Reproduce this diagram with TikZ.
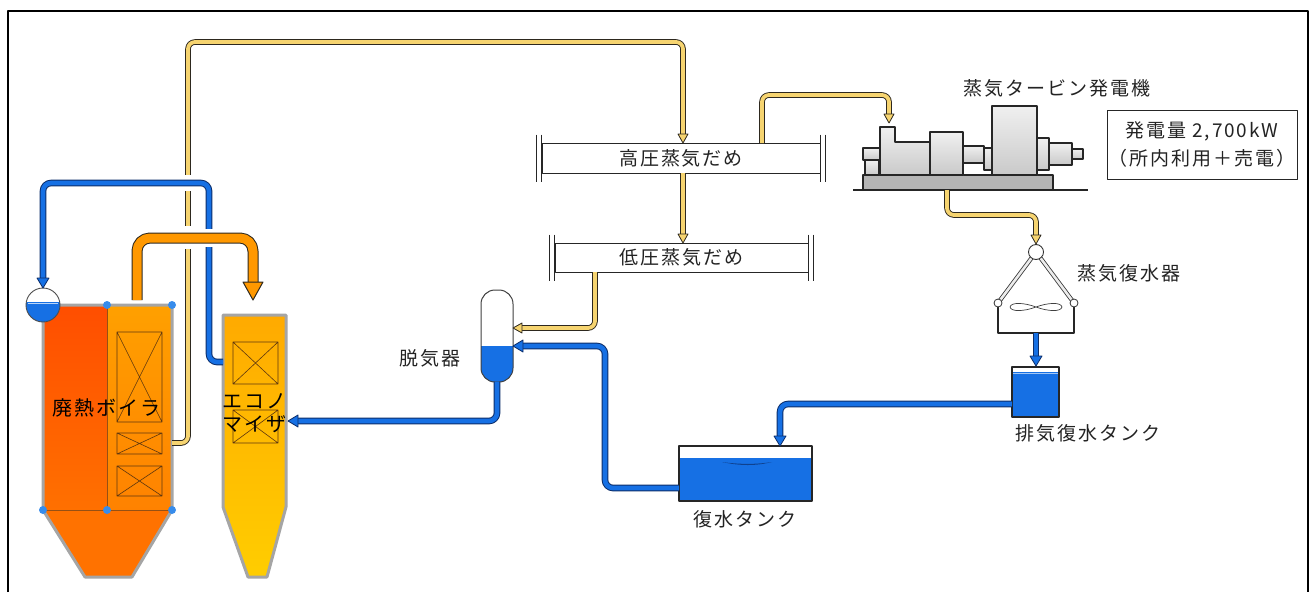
\documentclass[tikz,border=0pt]{standalone}
\usepackage{fontspec}
\newfontfamily\jp[LetterSpace=10]{Noto Sans CJK JP}
\usetikzlibrary{calc}

\definecolor{pipeedge}{RGB}{45,40,30}
\definecolor{steamfill}{RGB}{246,212,112}
\definecolor{waterfill}{RGB}{22,112,228}
\definecolor{wateredge}{RGB}{12,45,105}
\definecolor{fluefill}{RGB}{255,152,0}
\definecolor{hotA}{RGB}{255,78,0}
\definecolor{hotB}{RGB}{255,112,0}
\definecolor{convA}{RGB}{255,160,0}
\definecolor{convB}{RGB}{255,130,0}
\definecolor{hopper}{RGB}{255,114,0}
\definecolor{ecoA}{RGB}{255,170,0}
\definecolor{ecoB}{RGB}{255,205,0}
\definecolor{casing}{RGB}{165,165,165}
\definecolor{handle}{RGB}{55,140,235}
\definecolor{labeltext}{RGB}{35,35,35}
\definecolor{tubeline}{RGB}{95,55,15}
\definecolor{splitline}{RGB}{150,80,20}

\tikzset{
  steam/.style={draw=pipeedge, line width=0.9pt, double=steamfill, double distance=3.8pt, rounded corners=7pt},
  water/.style={draw=wateredge, line width=1pt, double=waterfill, double distance=4.6pt, rounded corners=8pt},
  flue/.style={draw=pipeedge, line width=1pt, double=fluefill, double distance=9pt, rounded corners=13pt},
  steamtip/.style={fill=steamfill, draw=pipeedge, line width=0.8pt},
  watertip/.style={fill=waterfill, draw=wateredge, line width=0.8pt},
  fluetip/.style={fill=fluefill, draw=pipeedge, line width=1pt},
  pics/hd/.style n args={2}{code={\path[pic actions] (0,0) -- (-#1,-#2) -- (#1,-#2) -- cycle;}},
  pics/hl/.style n args={2}{code={\path[pic actions] (0,0) -- (#2,-#1) -- (#2,#1) -- cycle;}},
  boxline/.style={draw=tubeline, line width=0.6pt},
  outline/.style={draw=black!85, line width=1.1pt},
  label/.style={font=\jp\fontsize{19}{22}\selectfont, text=labeltext, inner sep=0pt},
  header/.style={draw=black!85, line width=1pt, fill=white, inner sep=0pt,
                 font=\jp\fontsize{19}{22}\selectfont, text=labeltext},
  hbar/.style={draw=black!85, line width=1pt},
  machine/.style={top color=gray!12, bottom color=gray!42, draw=black!85, line width=1.1pt},
}

\newcommand\crossbox[4]{%
  \draw[boxline] (#1,#2) rectangle (#3,#4) (#1,#2) -- (#3,#4) (#3,#2) -- (#1,#4);}

\begin{document}
\begin{tikzpicture}[x=1pt,y=-1pt,line join=round]
\useasboundingbox (0,0) rectangle (1316,592);

% outer frame, open at the bottom
\draw[line width=2pt] (8,592) -- (8,11) -- (1308,11) -- (1308,592);

% ---------- waste heat boiler ----------
\fill[top color=hotA, bottom color=hotB] (43,305) rectangle (107,510);
\fill[top color=convA, bottom color=convB] (107,305) rectangle (172,510);
\fill[hopper] (43,510) -- (172,510) -- (132,577) -- (85,577) -- cycle;
\draw[draw=splitline, line width=0.5pt] (107,305) -- (107,510) (43,510) -- (172,510);
\crossbox{117}{332}{162}{422}
\crossbox{117}{433}{162}{454}
\crossbox{117}{466}{162}{496}
\draw[casing, line width=3pt] (43,305) -- (172,305) -- (172,510) -- (132,577) -- (85,577) -- (43,510) -- cycle;
\node[label, font=\jp\fontsize{20}{22}\selectfont, text=black] (boilerlabel) at (106,408) {廃熱ボイラ};

% steam drum
\coordinate (drum) at (43,305);
\fill[white] (drum) circle (17);
\begin{scope}
  \clip (20,302) rectangle (66,330);
  \fill[waterfill] (drum) circle (17);
\end{scope}
\draw[draw=white!70!waterfill, line width=0.6pt] (28,303) -- (58,303);
\draw[draw=black!70, line width=0.9pt] (drum) circle (17);

% handles on the boiler outline
\foreach \p in {(107,305),(172,305),(43,510),(107,510),(172,510)}
  \fill[handle] \p circle (4);

% ---------- economizer ----------
\fill[top color=ecoA, bottom color=ecoB] (223,315) -- (286,315) -- (286,507) -- (267,577) -- (248,577) -- (223,507) -- cycle;
\crossbox{233}{342}{278}{384}
\crossbox{233}{410}{278}{443}
\draw[casing, line width=3pt] (223,315) -- (286,315) -- (286,507) -- (267,577) -- (248,577) -- (223,507) -- cycle;
\node[label, text=black, align=center, font=\jp\fontsize{20}{23}\selectfont] (ecolabel) at (254,413) {エコノ\\マイザ};

% ---------- steam headers ----------
\node[header, minimum width=278, minimum height=30] (hp) at (681,158) {高圧蒸気だめ};
\node[header, minimum width=253, minimum height=29] (lp) at (681.5,257.5) {低圧蒸気だめ};
\foreach \h in {hp,lp}{
  \draw[hbar] ($(\h.north west)+(0,-8)$) -- ($(\h.south west)+(0,8)$)
              ($(\h.north west)+(-5,-8)$) -- ($(\h.south west)+(-5,8)$)
              ($(\h.north east)+(0,-8)$) -- ($(\h.south east)+(0,8)$)
              ($(\h.north east)+(5,-8)$) -- ($(\h.south east)+(5,8)$);
}

% ---------- deaerator ----------
\coordinate (deaSteamIn) at (513,328);
\coordinate (deaWaterIn) at (513,346);
\coordinate (deaOut) at (497,382);
\fill[white, rounded corners=14] (481,290) rectangle (513,382);
\begin{scope}
  \clip[rounded corners=14] (481,290) rectangle (513,382);
  \fill[waterfill] (478,346) rectangle (516,385);
\end{scope}
\draw[draw=black!75, line width=1pt, rounded corners=14] (481,290) rectangle (513,382);
\node[label] (dealabel) at (430,358) {脱気器};

% ---------- condensate tank ----------
\fill[white] (679,446) rectangle (812,501);
\fill[waterfill] (679,458) rectangle (812,501);
\fill[draw=none, fill=wateredge!70!waterfill] (722,462) .. controls (740,466) and (756,466) .. (772,462) .. controls (756,464.5) and (740,464.5) .. (722,462);
\draw[outline] (679,446) rectangle (812,501);
\node[label] (tanklabel) at (745,519) {復水タンク};
\coordinate (tankIn) at (780,446);
\coordinate (tankOut) at (679,488);

% ---------- exhaust condensate tank ----------
\fill[white] (1012,367) rectangle (1059,417);
\fill[waterfill] (1012,372) rectangle (1059,417);
\draw[draw=white!60!waterfill, line width=0.6pt] (1013,373) -- (1058,373);
\draw[outline] (1012,367) rectangle (1059,417);
\node[label] (extanklabel) at (1088,433) {排気復水タンク};
\coordinate (exIn) at (1036,367);
\coordinate (exOut) at (1012,404);

% ---------- steam condenser ----------
\coordinate (condBall) at (1036,252);
\coordinate (condL) at (998,303);
\coordinate (condR) at (1074,303);
\coordinate (condOut) at (1036,333);
\draw[outline] (condL) -- (998,333) -- (1074,333) -- (condR);
\draw[draw=black!80, line width=0.8pt, double=gray!15, double distance=2.6pt] (condBall) -- (condL);
\draw[draw=black!80, line width=0.8pt, double=gray!15, double distance=2.6pt] (condBall) -- (condR);
\filldraw[fill=white, draw=black!80, line width=0.9pt] (condBall) circle (7.5);
\filldraw[fill=white, draw=black!80, line width=0.8pt] (condL) circle (4);
\filldraw[fill=white, draw=black!80, line width=0.8pt] (condR) circle (4);
\coordinate (fan) at (1036,307);
\filldraw[fill=white, draw=black!75, line width=0.7pt]
  (fan) .. controls (1024,302.5) and (1011,302) .. (1010,307) .. controls (1011,312) and (1024,311.5) .. (fan)
  .. controls (1048,302.5) and (1061,302) .. (1062,307) .. controls (1061,312) and (1048,311.5) .. (fan);
\node[label] (condlabel) at (1129,273) {蒸気復水器};

% ---------- steam turbine generator ----------
\fill[gray!58] (863,175) rectangle (1053,190);
\draw[outline] (863,175) rectangle (1053,190);
\draw[outline] (853,190) -- (1088,190);
\path[machine] (865,160) rectangle (879,175);
\path[machine] (863,148) rectangle (880,160);
\path[machine] (880,175) -- (880,127) -- (895,127) -- (895,142) -- (930,142) -- (930,175) -- cycle;
\path[machine] (930,132) rectangle (963,175);
\path[machine] (984,148) rectangle (992,170);
\path[machine] (963,146) rectangle (984,163);
\path[machine] (992,106) rectangle (1037,175);
\path[machine] (1037,138) rectangle (1049,170);
\path[machine] (1049,143) rectangle (1072,165);
\path[machine] (1072,149) rectangle (1083,159);
\node[label] (turblabel) at (1057,88) {蒸気タービン発電機};
\coordinate (turbIn) at (889,123);
\coordinate (turbOut) at (947,190);

% output box
\node[draw=black!85, line width=1pt, minimum width=190, minimum height=69, align=center,
      font=\jp\fontsize{19}{28}\selectfont, text=labeltext, inner sep=0pt] (info) at (1202,144.5)
  {発電量 2,700kW\\（所内利用＋売電）};

% ---------- connection points ----------
\coordinate (boilerSteam) at (172,443);
\coordinate (hpIn) at (683,143);
\coordinate (hpOut) at (683,173);
\coordinate (hpToTurb) at (762,143);
\coordinate (lpIn) at (683,243);
\coordinate (lpOut) at (595,272);
\coordinate (econOut) at (223,362);
\coordinate (econIn) at (288,421);
\coordinate (drumIn) at (43,288);
\coordinate (flueOut) at (137,300);
\coordinate (flueIn) at (253,300);

% ---------- steam lines ----------
\draw[steam] (boilerSteam) -- (188,443) -- (188,42) -- (683,42) -- ($(hpIn)+(0,-9)$);
\pic[steamtip] at (hpIn) {hd={5}{9}};
\draw[steam] (hpOut) -- ($(lpIn)+(0,-9)$);
\pic[steamtip] at (lpIn) {hd={5}{9}};
\draw[steam] (hpToTurb) -- (762,95) -- (889,95) -- ($(turbIn)+(0,-9)$);
\pic[steamtip] at (turbIn) {hd={5}{9}};
\draw[steam] (turbOut) -- (947,215) -- (1036,215) -- ($(condBall)+(0,-17)$);
\pic[steamtip] at ($(condBall)+(0,-8)$) {hd={5}{9}};
\draw[steam] (lpOut) -- (595,328) -- ($(deaSteamIn)+(9,0)$);
\pic[steamtip] at (deaSteamIn) {hl={5}{9}};

% gap where the feed line crosses the main steam line
\fill[white] (183,175) rectangle (193,191);

% ---------- water lines ----------
\draw[water] (econOut) -- (209,362) -- (209,183) -- (43,183) -- ($(drumIn)+(0,-10)$);
\pic[watertip] at (drumIn) {hd={6}{10}};
\draw[water] (deaOut) -- (497,421) -- ($(econIn)+(10,0)$);
\pic[watertip] at (econIn) {hl={6}{10}};
\draw[water] (tankOut) -- (605,488) -- (605,346) -- ($(deaWaterIn)+(10,0)$);
\pic[watertip] at (deaWaterIn) {hl={6}{10}};
\draw[water] (exOut) -- (780,404) -- ($(tankIn)+(0,-10)$);
\pic[watertip] at (tankIn) {hd={6}{10}};
\draw[water] (condOut) -- ($(exIn)+(0,-10)$);
\pic[watertip] at ($(exIn)+(0,-1)$) {hd={6}{10}};

% gaps where the flue gas duct passes over the pipes
\fill[white] (182,226) rectangle (194,249);
\fill[white] (203,229) rectangle (215,247);

% ---------- flue gas duct ----------
\draw[flue] (flueOut) -- (137,238) -- (253,238) -- ($(flueIn)+(0,-17)$);
\pic[fluetip] at (flueIn) {hd={10}{18}};

\end{tikzpicture}
\end{document}
